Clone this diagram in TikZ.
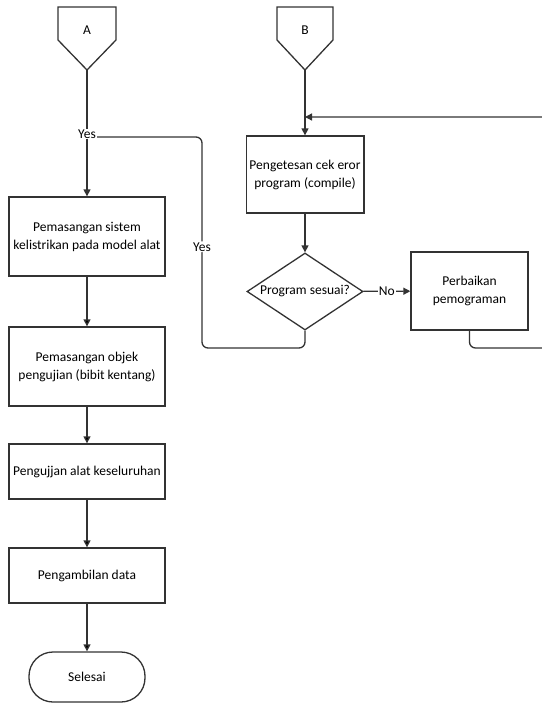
\documentclass[tikz,border=0pt]{standalone}
\usepackage{fontspec}
\setmainfont{Carlito}
\usetikzlibrary{arrows.meta,shapes.geometric}

\tikzset{
  line/.style={draw=black!80,line width=1.3pt},
  box/.style={line,rectangle,minimum width=156pt,align=center,inner sep=2pt},
  smallbox/.style={line,rectangle,minimum width=116pt,minimum height=77pt,align=center},
  lbl/.style={fill=white,inner sep=1pt},
  arr/.style={line,-{Triangle[length=7pt,width=7pt]}}
}

\begin{document}
\begin{tikzpicture}[x=1pt,y=-1pt,font=\fontsize{13.5}{18}\selectfont]
  \useasboundingbox (0,0) rectangle (541,704);

  % off-page connectors
  \draw[line] (58,7) -- (116,7) -- (116,40) -- (87,70) -- (58,40) -- cycle;
  \node (A) at (87,30) {A};
  \coordinate (Aout) at (87,70);
  \draw[line] (277,7) -- (333,7) -- (333,40) -- (305,70) -- (277,40) -- cycle;
  \node (B) at (305,30) {B};
  \coordinate (Bout) at (305,70);

  \node[box,minimum height=79pt] (pasang) at (87,236.5) {Pemasangan sistem\\kelistrikan pada model alat};
  \node[box,minimum height=79pt] (objek) at (87,366.5) {Pemasangan objek\\pengujian (bibit kentang)};
  \node[box,minimum height=55pt] (uji) at (87,471.5) {Pengujjan alat keseluruhan};
  \node[box,minimum height=55pt] (data) at (87,575.5) {Pengambilan data};
  \node[line,rectangle,rounded corners=24pt,minimum width=116pt,minimum height=50pt] (selesai) at (87,677) {Selesai};

  \node[smallbox] (compile) at (305,174.5) {Pengetesan cek eror\\program (compile)};
  \node[line,diamond,minimum width=116pt,minimum height=77pt,inner sep=0pt] (cek) at (305,291.5) {};
  \node at (cek) {Program sesuai?};
  \node[smallbox,minimum width=117pt,minimum height=78pt] (perbaikan) at (469.5,291) {Perbaikan\\pemograman};

  \coordinate (join) at (87,137);
  \coordinate (back) at (305,117);

  \draw[arr] (Aout) -- (pasang);
  \path[arr] (pasang) edge (objek)
             (objek) edge (uji)
             (uji) edge (data)
             (data) edge (selesai);
  \draw[arr] (Bout) -- (compile);
  \draw[arr] (compile) -- (cek);
  \draw[arr] (cek) -- node[lbl] {No} (perbaikan);

  \draw[line,rounded corners=6pt] (cek.south) -- (305,348) -- (202,348) -- node[lbl,pos=0.48] {Yes} (202,137) -- (join);
  \node[lbl] (yes) at (87,134) {Yes};
  \draw[arr,rounded corners=6pt] (perbaikan.south) -- (469.5,348) -- (560,348) -- (560,117) -- (back);
\end{tikzpicture}
\end{document}
